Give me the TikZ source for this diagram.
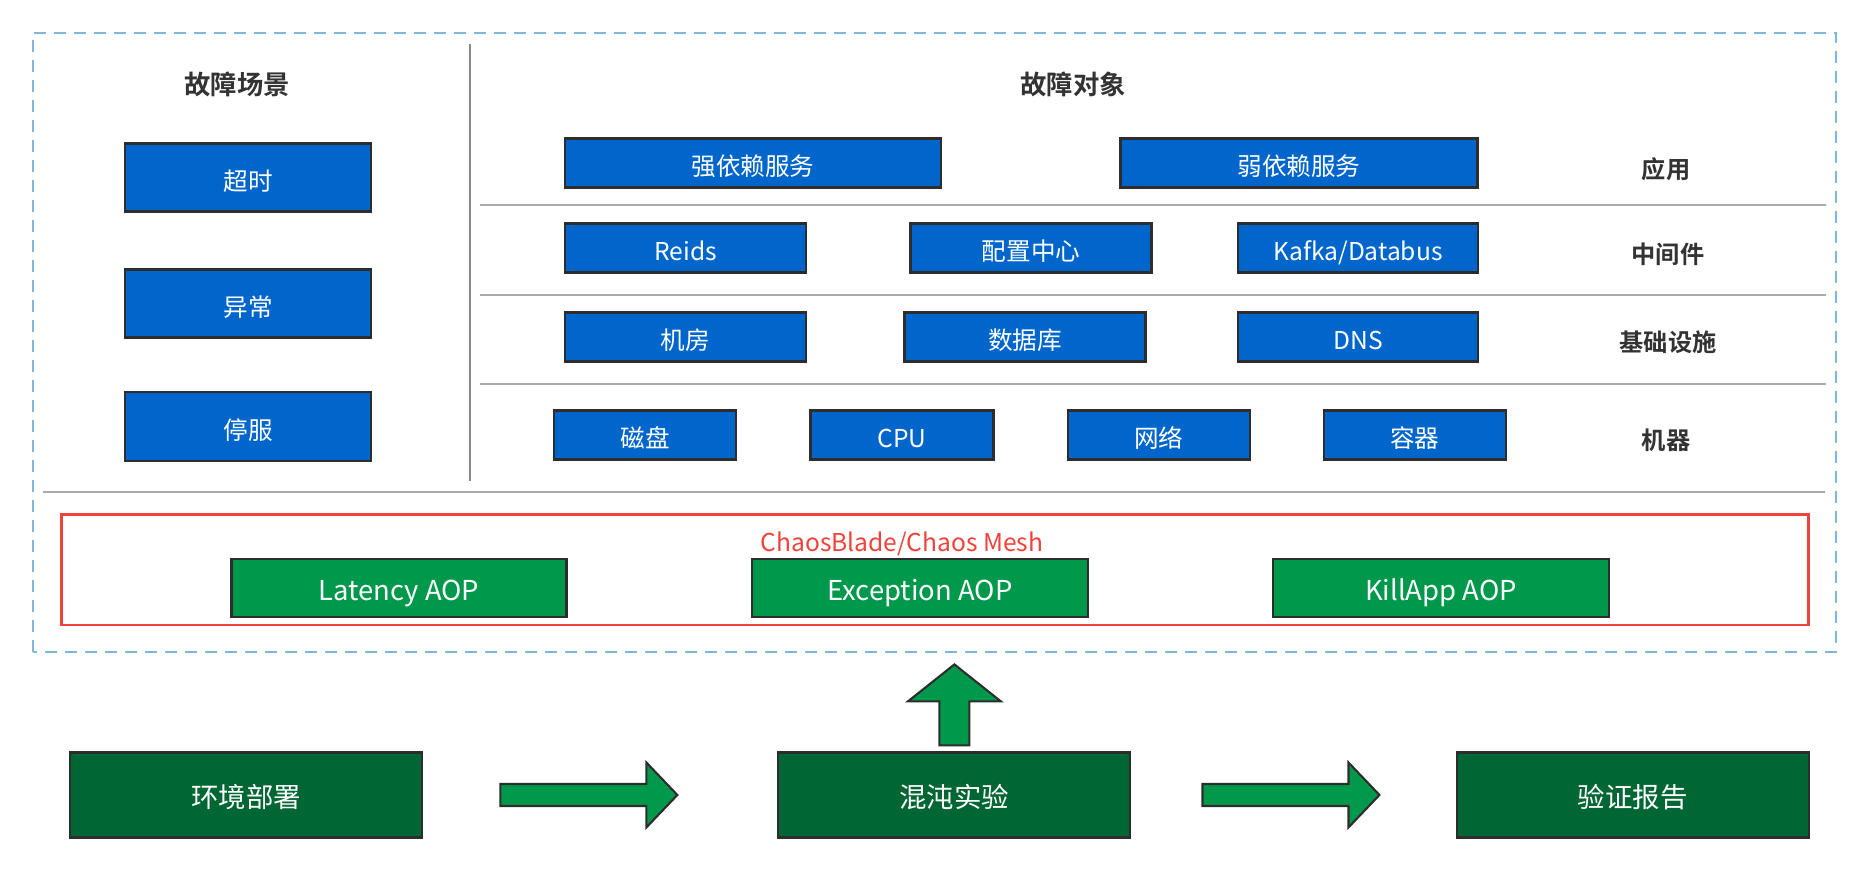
\documentclass[tikz,border=0pt]{standalone}
\usepackage{fontspec}
\setmainfont{Noto Sans CJK SC}[BoldFont={Noto Sans CJK SC Bold}]
\usepackage{tikz}
\usepackage{xcolor}
\usetikzlibrary{calc}

\definecolor{faultblue}{RGB}{0,102,204}
\definecolor{aopgreen}{RGB}{0,153,76}
\definecolor{flowgreen}{RGB}{0,102,51}
\definecolor{boxline}{RGB}{45,45,45}
\definecolor{sepgray}{RGB}{170,170,170}
\definecolor{dashblue}{RGB}{125,183,222}
\definecolor{chaosred}{RGB}{240,66,58}
\definecolor{labelgray}{RGB}{51,51,51}

\begin{document}
\begin{tikzpicture}[
  every node/.style={text height=0.74em, text depth=0em},
  bluebox/.style={draw=boxline, fill=faultblue, text=white, line width=0.6pt,
    minimum height=0.49cm, inner sep=0pt, font=\fontsize{7.0}{8.4}\selectfont},
  aopbox/.style={draw=boxline, fill=aopgreen, text=white, line width=0.6pt,
    minimum height=0.58cm, minimum width=3.36cm, inner sep=0pt, font=\fontsize{7.8}{9.2}\selectfont},
  flowbox/.style={draw=boxline, fill=flowgreen, text=white, line width=0.6pt,
    minimum height=0.85cm, minimum width=3.52cm, inner sep=0pt, font=\fontsize{7.8}{9.2}\selectfont},
  layer/.style={text=labelgray, font=\bfseries\fontsize{6.9}{8.4}\selectfont},
  header/.style={text=labelgray, font=\bfseries\fontsize{7.5}{9}\selectfont},
  flowarrow/.style={draw=boxline, fill=aopgreen, line width=0.6pt, line join=miter}
]
\useasboundingbox (0,0) rectangle (18.70,8.70);

% outer frame and separators
\draw[dashblue, line width=0.6pt, dash pattern=on 0.12cm off 0.08cm] (0.33,2.18) rectangle (18.36,8.37);
\draw[sepgray!80!black, line width=0.5pt] (4.70,8.26) -- (4.70,3.89);
\draw[sepgray, line width=0.7pt] (4.80,6.65) -- (18.26,6.65);
\draw[sepgray, line width=0.7pt] (4.80,5.75) -- (18.26,5.75);
\draw[sepgray, line width=0.7pt] (4.80,4.86) -- (18.26,4.86);
\draw[sepgray, line width=0.7pt] (0.43,3.78) -- (18.25,3.78);

% fault scenes
\node[header] (tScene) at (2.37,7.88) {故障场景};
\node[bluebox, minimum width=2.46cm, minimum height=0.68cm] (sTimeout) at (2.48,6.925) {超时};
\node[bluebox, minimum width=2.46cm, minimum height=0.68cm] (sError) at (2.48,5.665) {异常};
\node[bluebox, minimum width=2.46cm, minimum height=0.69cm] (sStop) at (2.48,4.438) {停服};

% fault objects
\node[header] (tObject) at (10.73,7.88) {故障对象};
\node[bluebox, minimum width=3.76cm] (oStrong) at (7.53,7.07) {强依赖服务};
\node[bluebox, minimum width=3.57cm] (oWeak) at (12.99,7.07) {弱依赖服务};
\node[layer] (lApp) at (16.66,7.04) {应用};

\node[bluebox, minimum width=2.41cm] (oRedis) at (6.855,6.22) {Reids};
\node[bluebox, minimum width=2.41cm] (oConfig) at (10.31,6.22) {配置中心};
\node[bluebox, minimum width=2.40cm] (oKafka) at (13.58,6.22) {Kafka/Databus};
\node[layer] (lMid) at (16.68,6.19) {中间件};

\node[bluebox, minimum width=2.41cm] (oRoom) at (6.855,5.33) {机房};
\node[bluebox, minimum width=2.41cm] (oDb) at (10.25,5.33) {数据库};
\node[bluebox, minimum width=2.40cm] (oDns) at (13.58,5.33) {DNS};
\node[layer] (lInfra) at (16.68,5.31) {基础设施};

\node[bluebox, minimum width=1.82cm] (oDisk) at (6.45,4.35) {磁盘};
\node[bluebox, minimum width=1.83cm] (oCpu) at (9.02,4.35) {CPU};
\node[bluebox, minimum width=1.82cm] (oNet) at (11.586,4.35) {网络};
\node[bluebox, minimum width=1.82cm] (oBox) at (14.146,4.35) {容器};
\node[layer] (lHost) at (16.66,4.33) {机器};

% chaos tools
\draw[chaosred, line width=0.7pt] (0.614,2.45) rectangle (18.086,3.557);
\node[text=chaosred, font=\fontsize{7.0}{8.4}\selectfont] (tChaos) at (9.02,3.31) {ChaosBlade/Chaos Mesh};
\node[aopbox, minimum width=3.35cm] (aLatency) at (3.99,2.823) {Latency AOP};
\node[aopbox] (aException) at (9.20,2.823) {Exception AOP};
\node[aopbox] (aKill) at (14.41,2.823) {KillApp AOP};

% flow
\node[flowbox] (env) at (2.463,0.75) {环境部署};
\node[flowbox] (exp) at (9.544,0.75) {混沌实验};
\node[flowbox] (report) at (16.327,0.75) {验证报告};

\draw[flowarrow] ($(env.east)+(0.77,0.11)$) -- ++(1.46,0) -- ++(0,0.215) -- ++(0.31,-0.325)
  -- ++(-0.31,-0.325) -- ++(0,0.215) -- ++(-1.46,0) -- cycle;
\draw[flowarrow] ($(exp.east)+(0.71,0.11)$) -- ++(1.46,0) -- ++(0,0.215) -- ++(0.31,-0.325)
  -- ++(-0.31,-0.325) -- ++(0,0.215) -- ++(-1.46,0) -- cycle;
\draw[flowarrow] ($(exp.north)+(-0.15,0.06)$) -- ++(0,0.44) -- ++(-0.315,0) -- ++(0.465,0.37)
  -- ++(0.465,-0.37) -- ++(-0.315,0) -- ++(0,-0.44) -- cycle;

\end{tikzpicture}
\end{document}
